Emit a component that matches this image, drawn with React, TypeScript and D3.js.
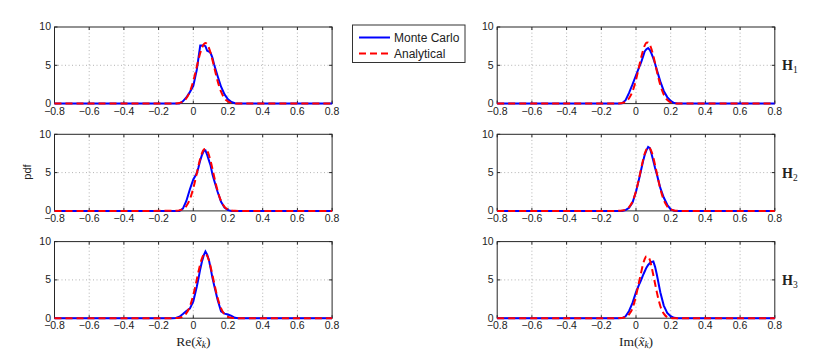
import React from "react";
import * as d3 from "d3";

// shared x grid (pdf support), plus the tick setup
const xGrid = [-0.8, -0.12, -0.1, -0.08, -0.06, -0.04, -0.02, 0, 0.02, 0.03, 0.04, 0.05, 0.06, 0.07, 0.08, 0.09, 0.1, 0.11, 0.12, 0.14, 0.16, 0.18, 0.2, 0.22, 0.24, 0.26, 0.8];
const xTicks = [-0.8, -0.6, -0.4, -0.2, 0, 0.2, 0.4, 0.6, 0.8];
const xTickLabels = ["\u22120.8", "\u22120.6", "\u22120.4", "\u22120.2", "0", "0.2", "0.4", "0.6", "0.8"];
const yTicks = [0, 5, 10];
const rowLabels = ["1", "2", "3"];

// Re part, Monte Carlo (mc) and analytical (an)
const reH1Mc = [0, 0, 0, 0, 0.3, 0.8, 1.5, 2.3, 4.4, 6.0, 7.6, 7.6, 7.6, 7.5, 6.9, 6.8, 6.6, 6.0, 5.1, 3.6, 2.2, 1.2, 0.55, 0.2, 0.05, 0, 0];
const reH1An = [0, 0.006, 0.024, 0.088, 0.27, 0.7, 1.56, 2.96, 4.8, 5.74, 6.6, 7.29, 7.74, 7.9, 7.74, 7.29, 6.6, 5.74, 4.8, 2.96, 1.56, 0.7, 0.27, 0.088, 0.024, 0.006, 0];
const reH2Mc = [0, 0, 0, 0, 0.3, 1.3, 2.8, 4.1, 4.9, 5.7, 6.6, 7.3, 7.8, 7.9, 7.3, 6.6, 5.9, 4.8, 4.0, 2.5, 1.2, 0.45, 0.1, 0, 0, 0, 0];
const reH2An = [0, 0.004, 0.018, 0.07, 0.23, 0.64, 1.5, 2.97, 4.9, 5.92, 6.83, 7.55, 7.99, 8.1, 7.85, 7.29, 6.49, 5.52, 4.5, 2.63, 1.29, 0.53, 0.18, 0.05, 0.013, 0.003, 0];
const reH3Mc = [0, 0, 0.02, 0.2, 0.55, 0.95, 1.25, 2.2, 4.1, 5.2, 6.4, 7.4, 8.2, 8.7, 8.3, 7.6, 6.5, 5.3, 4.3, 2.4, 0.9, 0.6, 0.48, 0.3, 0.05, 0, 0];
const reH3An = [0, 0.003, 0.016, 0.066, 0.22, 0.64, 1.51, 3.03, 5.04, 6.1, 7.06, 7.82, 8.28, 8.4, 8.14, 7.54, 6.69, 5.68, 4.61, 2.66, 1.29, 0.52, 0.18, 0.05, 0.012, 0.002, 0];

// Im part
const imH1Mc = [0, 0, 0, 0.05, 0.45, 1.4, 2.5, 3.7, 4.85, 5.4, 6.1, 6.8, 7.1, 7.25, 7.0, 6.5, 5.9, 5.2, 4.4, 2.9, 1.65, 0.85, 0.35, 0.08, 0, 0, 0];
const imH1An = [0, 0.004, 0.02, 0.08, 0.25, 0.7, 1.6, 3.1, 5.06, 6.04, 6.9, 7.57, 7.94, 7.97, 7.67, 7.06, 6.22, 5.26, 4.25, 2.44, 1.17, 0.48, 0.16, 0.046, 0.011, 0.002, 0];
const imH2Mc = [0, 0, 0, 0, 0.1, 0.4, 1.1, 2.5, 4.4, 5.4, 6.4, 7.3, 7.9, 8.35, 8.2, 7.4, 6.5, 5.6, 4.8, 3.0, 1.75, 0.8, 0.2, 0.02, 0, 0, 0];
const imH2An = [0, 0.002, 0.01, 0.045, 0.16, 0.49, 1.22, 2.57, 4.5, 5.56, 6.58, 7.44, 8.03, 8.3, 8.18, 7.71, 6.95, 5.98, 4.93, 2.91, 1.44, 0.59, 0.2, 0.058, 0.014, 0.003, 0];
const imH3Mc = [0, 0, 0, 0.02, 0.25, 0.95, 2.0, 3.4, 4.5, 5.0, 5.6, 6.1, 6.6, 6.95, 7.2, 7.35, 7.4, 6.7, 5.7, 3.4, 1.65, 0.7, 0.25, 0.05, 0, 0, 0];
const imH3An = [0, 0, 0.01, 0.04, 0.15, 0.5, 1.3, 2.9, 5.0, 6.0, 7.0, 7.7, 8.1, 8.0, 7.6, 6.7, 5.6, 4.5, 3.4, 1.6, 0.6, 0.15, 0.03, 0, 0, 0, 0];

const leftCol = [[reH1Mc, reH1An], [reH2Mc, reH2An], [reH3Mc, reH3An]];
const rightCol = [[imH1Mc, imH1An], [imH2Mc, imH2An], [imH3Mc, imH3An]];

const W = 830;
const H = 358;
const colX = [54.5, 497.2];
const panelW = 277.6;
const rowTop = [27, 134.3, 241.6];
const panelH = 76.6;
const sans = "'Liberation Sans', Arial, Helvetica, sans-serif";
const serif = "'Liberation Serif', 'Times New Roman', serif";

const Panel = ({ x0, top, mc, an }: { x0: number; top: number; mc: number[]; an: number[] }) => {
  const xs = d3.scaleLinear().domain([-0.8, 0.8]).range([x0, x0 + panelW]);
  const ys = d3.scaleLinear().domain([0, 10]).range([top + panelH, top]);
  const blue = d3.line<number>().x((d, i) => xs(xGrid[i])).y(d => ys(d));
  const red = d3.line<number>().x((d, i) => xs(xGrid[i])).y(d => ys(d)).curve(d3.curveMonotoneX);
  const tick = 3;
  return (
    <g>
      {xTicks.slice(1, -1).map(t => (
        <line key={"gx" + t} x1={xs(t)} x2={xs(t)} y1={ys(0)} y2={ys(10)} stroke="#a0a0a0" strokeWidth={0.8} strokeDasharray="1,2.5" />
      ))}
      <line x1={xs(-0.8)} x2={xs(0.8)} y1={ys(5)} y2={ys(5)} stroke="#a0a0a0" strokeWidth={0.8} strokeDasharray="1,2.5" />
      <rect x={xs(-0.8)} y={ys(10)} width={panelW} height={panelH} fill="none" stroke="#262626" strokeWidth={1} />
      {xTicks.map((t, i) => (
        <g key={"xt" + t}>
          <line x1={xs(t)} x2={xs(t)} y1={ys(0)} y2={ys(0) - tick} stroke="#262626" />
          <line x1={xs(t)} x2={xs(t)} y1={ys(10)} y2={ys(10) + tick} stroke="#262626" />
          <text x={xs(t)} y={ys(0) + 11} textAnchor="middle" fontFamily={sans} fontSize={10.5} fill="#222">{xTickLabels[i]}</text>
        </g>
      ))}
      {yTicks.map(t => (
        <g key={"yt" + t}>
          <line x1={xs(-0.8)} x2={xs(-0.8) + tick} y1={ys(t)} y2={ys(t)} stroke="#262626" />
          <line x1={xs(0.8)} x2={xs(0.8) - tick} y1={ys(t)} y2={ys(t)} stroke="#262626" />
          <text x={xs(-0.8) - 3.5} y={ys(t) + 3.4} textAnchor="end" fontFamily={sans} fontSize={10.5} fill="#222">{t}</text>
        </g>
      ))}
      <path d={blue(mc) || ""} fill="none" stroke="#0000ff" strokeWidth={2} />
      <path d={red(an) || ""} fill="none" stroke="#ff0000" strokeWidth={2} strokeDasharray="7,4" />
    </g>
  );
};

const XLabel = ({ x, prefix }: { x: number; prefix: string }) => (
  <text x={x} y={345.5} textAnchor="middle" fontFamily={serif} fontSize={13.5} fill="#222">
    {prefix + "("}
    <tspan fontStyle="italic">{"x\u0303"}</tspan>
    <tspan fontStyle="italic" fontSize={9.5} dy={2.5}>k</tspan>
    <tspan dy={-2.5}>)</tspan>
  </text>
);

export default function App() {
  return (
    <svg width={W} height={H} style={{ position: "absolute", left: 0, top: 0, background: "#fff" }}>
      {leftCol.map((s, i) => (
        <Panel key={"l" + i} x0={colX[0]} top={rowTop[i]} mc={s[0]} an={s[1]} />
      ))}
      {rightCol.map((s, i) => (
        <Panel key={"r" + i} x0={colX[1]} top={rowTop[i]} mc={s[0]} an={s[1]} />
      ))}
      {rowLabels.map((r, i) => (
        <text key={"h" + r} x={782} y={rowTop[i] + panelH / 2 + 5} fontFamily={serif} fontSize={14} fontWeight="bold" fill="#222">
          H<tspan fontSize={9.5} fontWeight="normal" dy={3}>{r}</tspan>
        </text>
      ))}
      <text transform="translate(31,172) rotate(-90)" textAnchor="middle" fontFamily={sans} fontSize={11} fill="#222">pdf</text>
      <XLabel x={193.3} prefix="Re" />
      <XLabel x={636} prefix="Im" />
      <g>
        <rect x={352.5} y={25} width={112.5} height={37.5} fill="#fff" stroke="#333" strokeWidth={1} />
        <line x1={359} x2={390} y1={37.5} y2={37.5} stroke="#0000ff" strokeWidth={2} />
        <text x={394} y={41.7} fontFamily={sans} fontSize={12} fill="#222">Monte Carlo</text>
        <line x1={359} x2={390} y1={53.5} y2={53.5} stroke="#ff0000" strokeWidth={2} strokeDasharray="7,4" />
        <text x={394} y={57.7} fontFamily={sans} fontSize={12} fill="#222">Analytical</text>
      </g>
    </svg>
  );
}
